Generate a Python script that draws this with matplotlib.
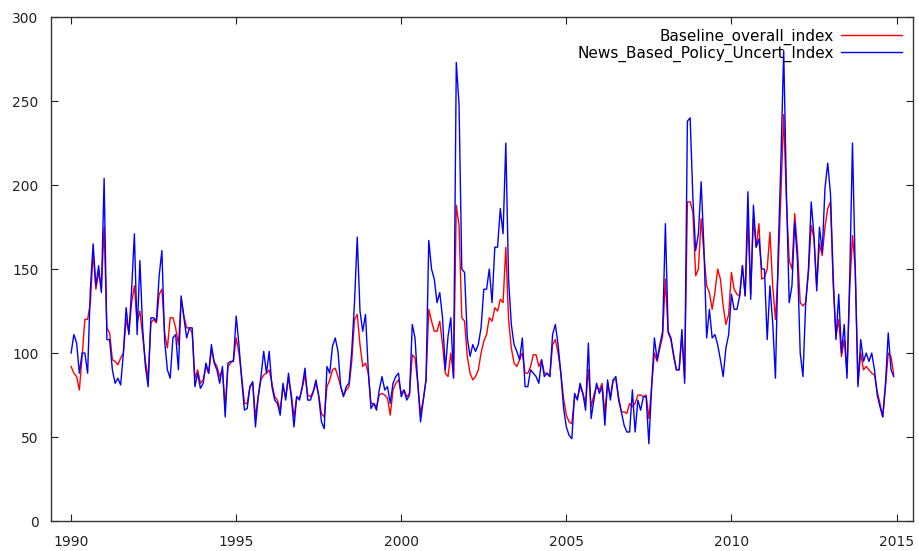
import numpy as np
import matplotlib
matplotlib.use("Agg")
import matplotlib.pyplot as plt

start_year = 1990

# monthly values, Jan 1990 .. Dec 2014, one row per year
news_based = [
    100, 111, 106, 88, 100, 100, 88, 138, 165, 140, 152, 136,   # 1990
    204, 108, 108, 90, 82, 85, 81, 100, 127, 111, 138, 171,     # 1991
    111, 155, 115, 92, 80, 121, 121, 119, 146, 161, 107, 90,    # 1992
    85, 109, 111, 90, 134, 121, 109, 115, 115, 80, 88, 79,      # 1993
    82, 94, 88, 105, 94, 90, 82, 92, 62, 94, 95, 95,            # 1994
    122, 105, 84, 66, 67, 80, 83, 56, 74, 86, 101, 88,          # 1995
    101, 80, 72, 70, 63, 82, 72, 88, 74, 56, 74, 72,            # 1996
    80, 91, 72, 72, 77, 84, 74, 59, 55, 92, 88, 104,            # 1997
    109, 101, 80, 74, 80, 82, 101, 130, 169, 125, 113, 123,     # 1998
    90, 67, 70, 66, 78, 86, 78, 80, 70, 82, 86, 88,             # 1999
    74, 78, 72, 75, 117, 109, 82, 59, 72, 84, 167, 150,         # 2000
    144, 130, 136, 121, 90, 110, 121, 85, 273, 248, 150, 148,   # 2001
    109, 98, 105, 101, 105, 115, 138, 138, 150, 130, 163, 163,  # 2002
    186, 171, 225, 144, 117, 105, 101, 96, 109, 80, 80, 90,     # 2003
    88, 86, 82, 96, 86, 88, 86, 111, 117, 105, 88, 67,          # 2004
    56, 51, 49, 76, 72, 82, 76, 66, 106, 61, 72, 82,            # 2005
    76, 80, 57, 84, 72, 84, 86, 72, 65, 57, 53, 53,             # 2006
    78, 53, 72, 66, 74, 74, 46, 80, 109, 96, 105, 113,          # 2007
    177, 113, 109, 99, 90, 90, 114, 82, 238, 240, 192, 161,     # 2008
    171, 202, 163, 109, 126, 109, 111, 105, 96, 86, 103, 111,   # 2009
    135, 126, 126, 134, 152, 134, 196, 132, 188, 163, 168, 150, # 2010
    150, 108, 140, 118, 85, 160, 215, 280, 195, 130, 140, 178,  # 2011
    155, 100, 86, 130, 150, 190, 170, 137, 175, 160, 198, 213,  # 2012
    195, 145, 108, 135, 100, 117, 85, 145, 225, 150, 80, 108,   # 2013
    95, 100, 95, 100, 90, 75, 68, 62, 82, 112, 90, 86,          # 2014
]

baseline = [
    92, 88, 86, 78, 98, 120, 120, 130, 160, 138, 148, 138,      # 1990
    175, 115, 112, 96, 95, 93, 97, 100, 120, 112, 130, 140,     # 1991
    118, 125, 110, 95, 85, 118, 120, 118, 135, 138, 112, 103,   # 1992
    121, 121, 115, 105, 132, 122, 115, 115, 112, 85, 90, 82,    # 1993
    84, 92, 88, 102, 95, 92, 86, 90, 68, 92, 94, 96,            # 1994
    109, 100, 86, 70, 70, 80, 82, 62, 74, 84, 87, 88,           # 1995
    90, 82, 74, 72, 66, 80, 74, 85, 76, 62, 74, 73,             # 1996
    79, 87, 75, 74, 77, 82, 75, 64, 62, 80, 84, 90,             # 1997
    91, 86, 80, 75, 78, 80, 95, 120, 123, 105, 92, 94,          # 1998
    88, 70, 70, 68, 75, 76, 75, 73, 63, 78, 82, 84,             # 1999
    76, 78, 74, 76, 99, 97, 82, 64, 72, 84, 126, 119,           # 2000
    113, 113, 119, 105, 88, 86, 100, 86, 188, 176, 121, 119,    # 2001
    98, 88, 84, 86, 90, 100, 107, 111, 121, 119, 127, 125,      # 2002
    132, 130, 163, 120, 103, 94, 92, 96, 100, 88, 88, 92,       # 2003
    99, 99, 92, 96, 88, 88, 86, 105, 108, 100, 88, 73,          # 2004
    63, 59, 58, 74, 73, 80, 76, 70, 90, 68, 75, 80,             # 2005
    78, 82, 64, 82, 74, 84, 84, 74, 65, 65, 64, 70,             # 2006
    68, 70, 75, 75, 74, 75, 61, 80, 100, 95, 103, 110,          # 2007
    144, 112, 108, 98, 90, 90, 110, 85, 190, 190, 184, 146,     # 2008
    150, 180, 159, 140, 136, 126, 136, 150, 144, 128, 117, 123, # 2009
    148, 138, 135, 134, 152, 134, 180, 135, 180, 163, 177, 144, # 2010
    145, 150, 172, 140, 120, 150, 195, 242, 190, 155, 150, 183, # 2011
    162, 130, 128, 130, 148, 176, 168, 140, 165, 158, 175, 186, # 2012
    190, 140, 110, 120, 98, 108, 88, 138, 170, 150, 82, 100,    # 2013
    90, 92, 90, 88, 87, 77, 70, 62, 80, 100, 98, 87,            # 2014
]

x_ticks = [1990, 1995, 2000, 2005, 2010, 2015]
y_ticks = [0, 50, 100, 150, 200, 250, 300]

t = start_year + np.arange(len(news_based)) / 12.0

fig = plt.figure(figsize=(9.2, 5.51), dpi=100)
ax = fig.add_axes([0.0554, 0.0544, 0.937, 0.9146])

ax.plot(t, baseline, color="#ff0000", lw=1.0, label="Baseline_overall_index")
ax.plot(t, news_based, color="#0000ff", lw=1.0, label="News_Based_Policy_Uncert_Index")

ax.set_xlim(1989.39, 2015.5)
ax.set_ylim(0, 300)
ax.set_xticks(x_ticks)
ax.set_yticks(y_ticks)
ax.tick_params(direction="in", length=5, width=0.8, top=True, right=True,
               labelsize=10, colors="#222222")
ax.tick_params(axis="x", pad=10)
ax.tick_params(axis="y", pad=9)
for s in ax.spines.values():
    s.set_color("#333333")
    s.set_linewidth(1.0)

ax.legend(loc="upper right", bbox_to_anchor=(0.998, 0.995), frameon=False,
          markerfirst=False, fontsize=11, handlelength=4.0, handletextpad=0.45,
          labelspacing=0.05, borderaxespad=0.2)

fig.savefig("out.png", dpi=100)
